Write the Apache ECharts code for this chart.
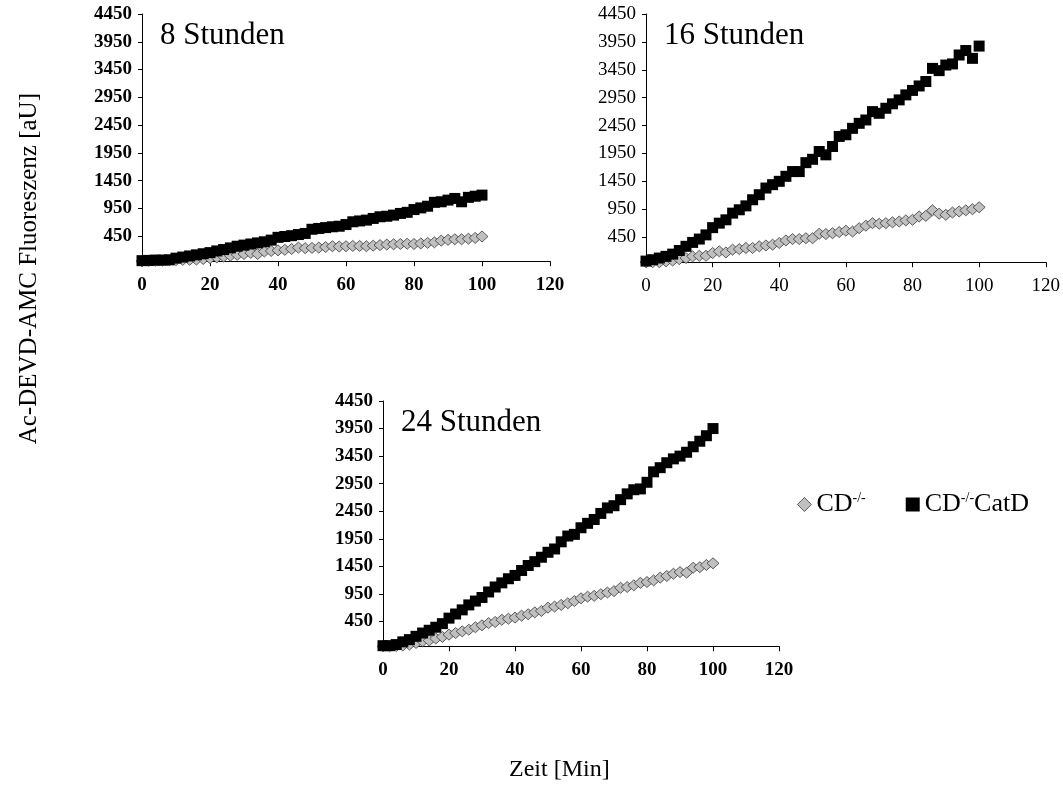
<!DOCTYPE html>
<html>
<head>
<meta charset="utf-8">
<script src="https://cdn.jsdelivr.net/npm/echarts@6/dist/echarts.min.js"></script>
<style>
    html, body { margin: 0; padding: 0; background: #fff; }
    #chart { width: 1063px; height: 785px; }
</style>
</head>
<body>
<div id="chart"></div>
<script>
    // Zeit [Min]
    var time = [0,2,4,6,8,10,12,14,16,18,20,22,24,26,28,30,32,34,36,38,40,42,44,46,48,50,
        52,54,56,58,60,62,64,66,68,70,72,74,76,78,80,82,84,86,88,90,92,94,96,98,100];

    // 8 Stunden
    var cd8 = [0,5,10,10,15,20,25,25,30,40,55,70,85,100,115,130,150,130,175,185,195,205,220,245,235,
        240,245,255,270,265,270,275,275,270,280,290,300,305,310,315,310,320,330,340,370,385,395,395,405,420,445];
    var cat8 = [10,15,20,20,25,55,75,95,115,135,155,185,210,240,270,290,310,330,350,380,430,445,460,480,500,
        575,590,605,620,630,660,710,725,740,770,800,810,830,860,880,930,960,990,1060,1070,1100,1130,1070,1150,1170,1190];

    // 16 Stunden
    var cd16 = [0,0,0,15,30,55,75,105,115,115,165,195,175,225,235,255,255,285,300,315,345,390,415,415,430,
        430,510,505,520,540,565,550,610,655,700,690,700,715,730,750,760,820,830,930,870,850,890,910,930,950,985];
    var cat16 = [20,45,75,105,145,210,285,355,415,490,620,700,760,880,940,1010,1120,1210,1330,1390,1450,1540,1625,1625,1785,
        1845,1985,1925,2075,2255,2285,2400,2490,2550,2700,2670,2760,2840,2910,3000,3080,3160,3240,3475,3435,3535,3555,3715,3795,3655,3875];

    // 24 Stunden
    var cd24 = [0,0,5,15,30,60,90,105,140,170,210,240,270,300,345,380,420,440,480,500,520,555,580,615,640,
        700,720,750,780,820,870,900,915,945,975,1000,1060,1075,1105,1150,1165,1195,1245,1275,1315,1345,1335,1425,1435,1475,1505];
    var cat24 = [10,10,30,80,120,180,240,290,345,410,510,585,660,750,820,885,985,1075,1150,1225,1285,1375,1465,1535,1615,
        1705,1765,1895,2000,2030,2150,2230,2300,2410,2510,2550,2660,2765,2840,2855,2975,3165,3240,3330,3400,3450,3520,3620,3720,3820,3950];

    var panelTitles = ['8 Stunden', '16 Stunden', '24 Stunden'];
    var seriesNames = ['CD-/-', 'CD-/-CatD'];
    var yMin = -50, yMax = 4450, yStep = 500;
    var xMin = 0, xMax = 120, xStep = 20;

    var serif = 'Liberation Serif';

    function pairs(vals) {
        return vals.map(function (v, i) { return [time[i], v]; });
    }

    var grids = [
        {left: 142, top: 14, width: 408, height: 250},
        {left: 646, top: 14, width: 400, height: 251},
        {left: 383, top: 401, width: 396, height: 248}
    ];
    var boldLabels = [true, false, true];
    var panelData = [[cd8, cat8], [cd16, cat16], [cd24, cat24]];

    var xAxes = [], yAxes = [], series = [], titles = [];
    grids.forEach(function (g, i) {
        var labelStyle = {
            color: '#000',
            fontFamily: serif,
            fontSize: 19,
            fontWeight: boldLabels[i] ? 'bold' : 'normal'
        };
        xAxes.push({
            gridIndex: i, type: 'value', min: xMin, max: xMax, interval: xStep,
            axisLine: {lineStyle: {color: '#000', width: 1}},
            axisTick: {length: 5, lineStyle: {color: '#000'}},
            axisLabel: Object.assign({margin: 12}, labelStyle),
            splitLine: {show: false}
        });
        yAxes.push({
            gridIndex: i, type: 'value', min: yMin, max: yMax, interval: yStep,
            axisLine: {show: true, lineStyle: {color: '#000', width: 1}},
            axisTick: {show: true, length: 4, lineStyle: {color: '#000'}},
            axisLabel: Object.assign({
                margin: 10,
                formatter: function (v) { return v < 0 ? '' : v; }
            }, labelStyle),
            splitLine: {show: false}
        });
        series.push({
            name: seriesNames[0], type: 'scatter', xAxisIndex: i, yAxisIndex: i,
            symbol: 'diamond', symbolSize: [12, 11],
            itemStyle: {color: '#c0c0c0', borderColor: '#3a3a3a', borderWidth: 0.8, opacity: 1},
            emphasis: {disabled: true},
            data: pairs(panelData[i][0])
        });
        series.push({
            name: seriesNames[1], type: 'scatter', xAxisIndex: i, yAxisIndex: i,
            symbol: 'rect', symbolSize: 11,
            itemStyle: {color: '#000', opacity: 1},
            emphasis: {disabled: true},
            data: pairs(panelData[i][1])
        });
        titles.push({
            text: panelTitles[i],
            left: g.left + 18,
            top: g.top + 6,
            padding: 0,
            textStyle: {fontFamily: serif, fontSize: 31, fontWeight: 'normal', color: '#000'}
        });
    });

    var option = {
        animation: false,
        backgroundColor: '#fff',
        title: titles,
        grid: grids,
        xAxis: xAxes,
        yAxis: yAxes,
        legend: {
            left: 792,
            top: 486,
            selectedMode: false,
            itemWidth: 14,
            itemHeight: 14,
            itemGap: 40,
            data: [
                {name: seriesNames[0], icon: 'diamond',
                    itemStyle: {color: '#c0c0c0', borderColor: '#3a3a3a', borderWidth: 0.8}},
                {name: seriesNames[1], icon: 'rect', itemStyle: {color: '#000'}}
            ],
            formatter: function (name) {
                return name === 'CD-/-' ? '{b|CD}{s|-/-}' : '{b|CD}{s|-/-}{b|CatD}';
            },
            textStyle: {
                color: '#000',
                fontFamily: serif,
                rich: {
                    b: {fontFamily: serif, fontSize: 26, color: '#000', lineHeight: 27},
                    s: {fontFamily: serif, fontSize: 14, color: '#000', verticalAlign: 'top', lineHeight: 27}
                }
            }
        },
        graphic: [
            {
                type: 'text', left: 17, top: 93, rotation: Math.PI / 2,
                style: {text: 'Ac-DEVD-AMC Fluoreszenz [aU]', font: '25px "Liberation Serif"', fill: '#000'}
            },
            {
                type: 'text', left: 509, top: 758,
                style: {text: 'Zeit [Min]', font: '24px "Liberation Serif"', fill: '#000'}
            }
        ],
        series: series
    };

    var chart = echarts.init(document.getElementById('chart'));
    chart.setOption(option);
</script>
</body>
</html>
